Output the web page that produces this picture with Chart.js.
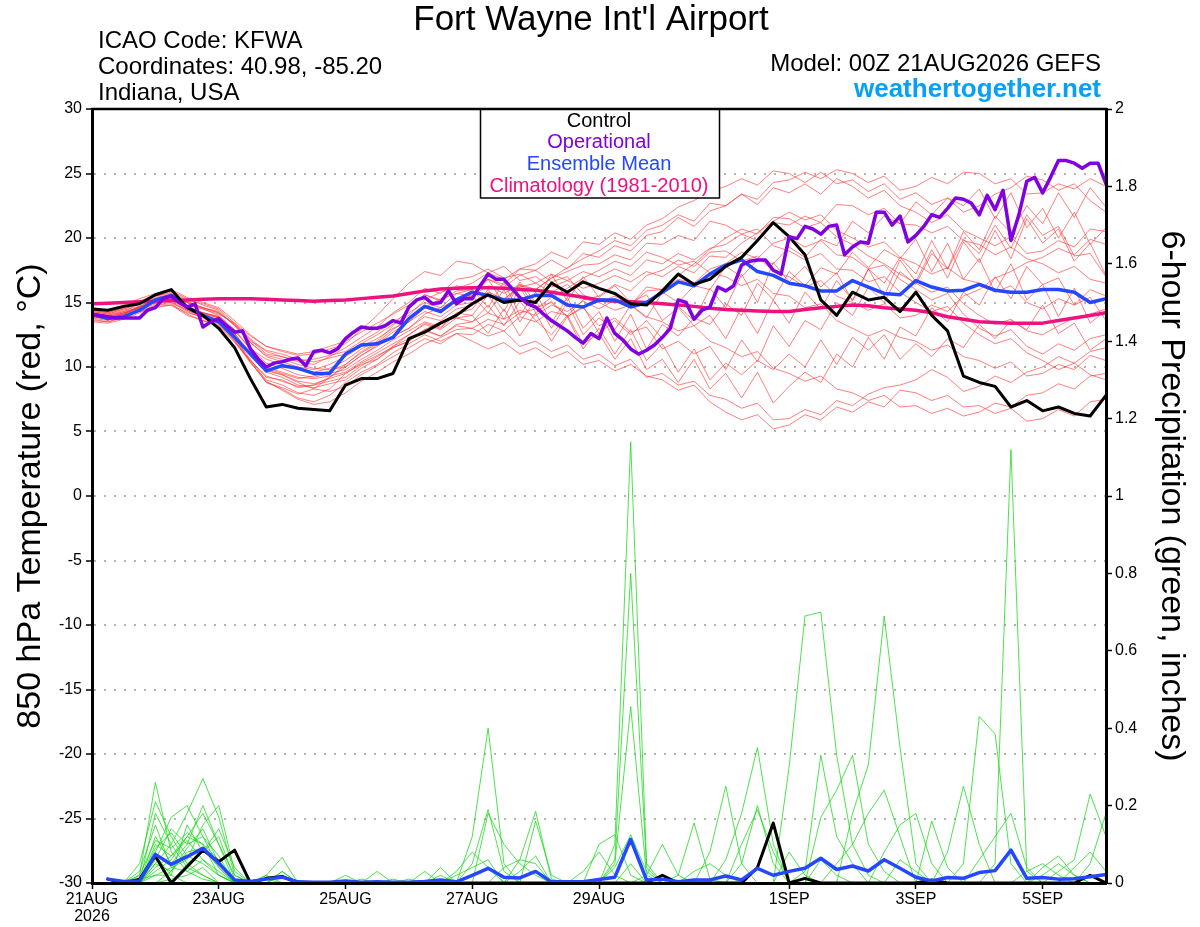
<!DOCTYPE html>
<html><head><meta charset="utf-8">
<script src="https://cdn.jsdelivr.net/npm/chart.js@4.4.1/dist/chart.umd.min.js"></script>
<style>html,body{margin:0;padding:0;background:#fff;}canvas{display:block;}</style>
</head><body>
<canvas id="c" width="1200" height="927"></canvas>
<script>
// ---------- axis categories ----------
const forecastHours6 = Array.from({length:65},(_,i)=>i*6);
const forecastHours3 = Array.from({length:129},(_,i)=>i*3);
const xTickHours = [0,48,96,144,192,264,312,360];
const xTickLabels = [['21AUG','2026'],'23AUG','25AUG','27AUG','29AUG','1SEP','3SEP','5SEP'];

// ---------- 850 hPa temperature (deg C) ----------
const controlTemp = [14.5,14.4,14.7,14.9,15.6,16.0,14.6,14.0,13.0,11.5,9.1,6.9,7.1,6.8,6.7,6.6,8.6,9.1,9.1,9.5,12.2,12.7,13.4,14.0,14.9,15.6,15.0,15.2,15.0,16.5,15.8,16.6,16.1,15.7,14.9,14.8,15.9,17.2,16.4,16.8,17.8,18.5,19.8,21.2,20.1,18.7,15.2,14.0,15.8,15.2,15.4,14.3,15.8,14.0,12.8,9.3,8.8,8.5,6.9,7.4,6.6,6.9,6.4,6.2,7.8];
const meanTemp = [14.1,13.75,13.9,14.4,15.2,15.55,14.65,14.0,13.5,12.3,11.0,9.7,10.1,9.9,9.5,9.5,11.0,11.7,11.8,12.3,13.75,14.7,14.3,15.2,15.8,15.55,15.2,15.2,15.55,15.55,14.8,14.65,15.2,15.2,14.65,15.0,15.8,16.6,16.3,17.2,17.9,18.3,17.4,17.1,16.5,16.3,15.9,15.9,16.7,16.2,15.7,15.6,16.7,16.2,15.9,15.95,16.4,15.95,15.8,15.8,16.0,16.0,15.8,15.0,15.3];
const climoTemp = [14.9,14.95,15.0,15.05,15.1,15.15,15.2,15.25,15.3,15.3,15.3,15.25,15.2,15.15,15.1,15.15,15.2,15.3,15.4,15.5,15.7,15.9,16.05,16.1,16.15,16.15,16.1,16.0,15.95,15.8,15.6,15.4,15.2,15.1,15.05,15.0,14.9,14.8,14.7,14.55,14.45,14.4,14.35,14.3,14.3,14.45,14.6,14.7,14.8,14.75,14.6,14.5,14.4,14.2,13.9,13.7,13.5,13.45,13.4,13.4,13.4,13.6,13.8,14.0,14.2];
const operationalTemp = [14.1,14.0,13.9,13.8,13.8,13.8,13.8,14.4,14.6,15.3,15.5,15.0,14.65,14.9,13.1,13.5,13.75,13.2,12.7,12.8,11.4,10.6,10.0,10.3,10.4,10.6,10.7,10.1,11.2,11.3,11.1,11.4,12.2,12.7,13.1,13.0,13.0,13.2,13.6,13.4,14.65,15.2,15.4,14.9,15.0,15.9,
14.9,15.3,15.3,16.3,17.2,16.8,16.8,16.1,15.4,14.9,14.65,14.1,13.6,13.2,12.8,12.3,11.85,12.6,12.2,13.8,12.6,12.1,11.4,11.0,11.3,11.7,12.3,13.0,15.2,15.0,13.7,14.4,14.65,16.2,15.9,16.3,17.9,18.2,18.3,18.3,17.5,17.2,
20.1,19.95,20.9,20.7,20.3,20.9,21.0,18.7,19.3,19.7,19.6,22.0,22.0,21.0,21.7,19.7,20.2,20.9,21.8,21.6,22.3,23.1,23.0,22.7,21.8,23.3,22.2,23.7,19.8,21.8,24.4,24.7,23.5,24.7,26.0,26.0,25.8,25.4,25.8,25.8,24.2];

const memberTemp01 = [14.2,14.0,14.3,14.6,15.0, 15.4,14.8,14.5,14.0, 12.9,11.4,10.6,10.2, 9.8,9.6,9.9,10.5, 11.4,12.0,13.2,14.5, 15.6,15.1,15.9,16.0, 16.8,16.2,17.1,17.5, 18.3,17.6,18.8,18.5, 19.4,19.0,20.2,20.5, 21.6,20.9,22.1,22.5, 23.4,22.6,23.9,23.5, 24.2,23.4,24.6,24.0, 23.1,23.7,22.5,22.0, 21.2,21.8,20.6,20.0, 19.4,20.1,18.8,19.0, 19.8,19.3,20.7,20.5];
const memberTemp02 = [13.8,13.6,14.1,14.7,15.3, 15.0,14.4,13.9,13.5, 12.0,10.3,9.0,8.6, 8.0,7.8,8.3,9.5, 10.2,10.6,11.5,12.0, 12.8,12.4,13.3,13.5, 14.8,13.2,15.1,13.6, 12.5,14.0,11.8,12.6, 10.6,12.2,9.8,10.6, 8.8,10.6,8.3,9.5, 7.6,9.6,7.2,8.5, 9.6,8.8,11.0,10.0, 12.3,10.6,13.1,12.4, 14.6,13.5,15.8,14.8, 17.0,15.3,17.8,16.4, 16.9,14.8,15.4,13.6];
const memberTemp03 = [14.5,14.3,14.7,15.1,15.5, 15.8,15.2,14.9,14.5, 13.4,12.1,11.0,10.8, 10.4,10.2,10.8,11.5, 12.3,13.1,14.2,15.0, 16.1,15.7,16.8,17.0, 17.6,16.9,17.2,16.5, 15.8,16.4,15.3,15.0, 15.5,14.8,15.9,16.0, 16.8,16.5,17.6,18.0, 18.9,18.4,19.6,20.0, 19.3,19.8,18.7,18.5, 17.6,17.9,16.8,16.0, 15.2,15.7,14.1,13.0, 12.4,12.9,11.6,11.0, 11.8,11.3,12.2,12.5];
const memberTemp04 = [14.0,13.8,14.2,14.6,15.0, 15.2,14.7,14.2,13.8, 12.6,11.0,9.8,9.4, 8.8,8.3,8.1,8.5, 9.4,10.1,10.8,11.5, 12.2,11.8,12.6,12.5, 13.3,12.8,13.9,13.5, 14.3,14.0,15.2,15.5, 16.4,15.9,17.1,17.5, 18.3,17.8,18.9,19.0, 18.2,18.6,17.4,17.0, 16.2,16.7,15.5,15.0, 14.4,14.9,13.8,14.0, 14.8,14.3,15.5,16.0, 16.9,17.4,18.1,18.5, 19.2,18.7,19.9,19.5];
const memberTemp05 = [13.6,13.5,13.9,14.3,14.8, 14.9,14.1,13.6,13.2, 11.9,10.5,9.2,9.0, 8.4,8.6,9.2,10.0, 10.9,11.6,12.4,13.0, 14.1,14.6,15.2,15.5, 16.8,14.9,16.4,14.6, 15.0,13.9,14.6,13.2, 13.8,12.7,13.1,11.4, 12.0,11.0,11.6,9.8, 12.1,10.4,13.2,11.6, 13.6,12.9,15.0,14.0, 16.2,15.0,17.4,16.4, 18.8,17.6,19.9,18.8, 21.0,19.2,21.8,20.2, 20.9,18.6,18.8,17.0];
const memberTemp06 = [14.3,14.1,14.5,14.9,15.2, 15.6,15.0,14.6,14.2, 13.3,12.0,11.3,11.0, 10.6,10.4,10.7,11.0, 11.8,12.5,13.3,14.0, 15.2,15.8,16.1,16.5, 17.3,16.8,17.6,18.0, 18.9,18.4,19.7,19.5, 20.4,19.9,21.0,21.5, 22.4,22.9,23.6,24.0, 24.6,24.1,25.2,25.0, 24.3,25.1,24.2,24.5, 23.6,24.2,23.0,23.5, 22.6,23.1,22.0,22.5, 23.4,23.9,24.8,24.5, 23.7,24.2,22.9,22.0];
const memberTemp07 = [14.0,13.7,13.9,14.3,14.6, 14.8,14.2,13.9,13.6, 12.2,10.6,8.9,8.2, 7.5,7.1,7.3,8.0, 8.9,9.6,10.4,11.0, 11.8,12.3,12.9,13.0, 12.4,12.8,11.6,12.0, 11.2,11.7,10.6,11.0, 10.1,10.6,9.2,9.5, 8.6,8.9,7.8,7.5, 6.8,7.2,5.9,6.0, 6.7,6.3,7.4,7.0, 7.9,8.4,8.6,9.0, 9.8,9.2,8.1,8.5, 9.3,8.8,9.6,10.0, 10.8,10.3,11.2,11.5];
const memberTemp08 = [14.4,14.2,14.6,15.1,15.6, 15.9,15.3,14.8,14.4, 13.2,11.9,10.8,10.4, 10.0,9.8,10.2,10.8, 11.6,12.2,13.0,13.5, 14.3,13.9,14.8,15.0, 15.8,15.3,16.2,16.5, 17.2,16.7,17.4,17.0, 17.6,17.1,18.3,18.0, 18.8,18.3,19.2,19.5, 20.3,19.8,21.2,21.0, 21.7,21.2,22.6,22.5, 21.8,22.3,21.1,21.0, 20.4,20.9,19.8,19.5, 18.7,19.3,18.4,18.0, 17.3,17.8,16.8,16.5];
const memberTemp09 = [13.9,13.7,14.1,14.6,15.1, 15.3,14.6,14.2,13.9, 12.5,10.9,9.6,9.2, 8.6,8.4,8.7,9.0, 9.9,10.6,11.6,12.5, 13.4,13.0,14.1,14.5, 16.0,14.3,16.6,15.0, 17.2,15.1,17.0,15.4, 16.3,15.0,15.6,13.6, 14.6,13.2,14.0,12.2, 14.6,12.6,15.2,13.4, 15.8,14.5,16.7,15.2, 17.6,16.5,18.5,17.2, 19.8,17.6,20.5,19.1, 21.7,20.4,22.5,21.1, 23.5,21.6,23.9,22.4];
const memberTemp10 = [14.1,13.9,14.3,14.9,15.4, 15.6,15.0,14.5,14.1, 13.4,12.4,11.6,11.3, 11.0,11.2,11.6,12.0, 12.7,13.4,14.1,14.8, 15.6,15.2,16.3,16.0, 14.6,16.6,14.0,15.8, 13.4,15.4,13.0,14.3, 12.0,14.1,11.4,13.3, 12.4,13.8,13.3,14.9, 14.0,16.5,15.2,17.4, 16.3,17.7,17.2,18.9, 17.7,19.1,18.4,19.9, 17.4,19.6,16.8,18.4, 15.8,18.0,15.2,16.4, 13.9,16.1,13.4,14.4];
const memberTemp11 = [14.2,14.0,14.4,14.7,15.0, 15.3,14.6,14.0,13.7, 12.4,11.0,9.9,9.5, 9.1,9.3,9.7,10.2, 11.2,11.9,12.9,13.8, 14.6,14.2,15.3,15.5, 16.3,15.7,16.4,16.0, 16.9,17.4,17.9,18.0, 18.7,18.3,19.6,19.5, 20.2,19.8,21.3,21.0, 20.3,20.7,19.4,19.0, 18.3,18.8,17.6,17.5, 16.6,17.0,15.8,15.0, 14.3,14.7,13.4,12.5, 11.8,12.2,11.1,10.5, 9.8,10.3,9.4,9.0];
const memberTemp12 = [13.7,13.5,13.8,14.4,14.9, 15.0,14.3,13.8,13.4, 12.1,10.4,8.8,8.3, 7.6,7.3,7.8,8.8, 9.6,10.2,11.1,11.8, 12.5,12.0,12.6,12.0, 11.4,11.9,11.0,11.5, 10.7,11.2,10.2,10.5, 9.7,10.2,9.3,9.0, 8.2,8.6,7.3,6.5, 5.9,6.3,5.2,5.5, 6.3,5.9,6.9,6.5, 7.3,6.9,8.2,8.0, 7.4,7.8,6.9,7.0, 6.4,6.8,5.8,6.0, 6.7,6.2,7.3,7.5];
const memberTemp13 = [14.6,14.4,14.8,15.3,15.7, 16.0,15.4,15.0,14.6, 13.6,12.5,11.6,11.2, 10.9,11.0,11.4,11.8, 12.9,14.0,15.3,16.5, 17.4,17.1,18.2,18.0, 17.3,17.8,16.7,17.0, 16.2,16.7,16.1,16.5, 17.1,16.6,17.4,17.0, 17.8,17.3,18.6,18.5, 19.6,20.4,21.3,22.0, 21.4,21.8,20.6,20.0, 19.3,19.7,18.5,18.0, 17.2,17.7,16.8,16.5, 15.8,16.3,15.0,14.5, 15.3,14.8,16.0,15.5];
const memberTemp14 = [14.0,13.8,14.1,14.6,15.1, 15.2,14.6,14.2,13.9, 12.8,11.4,10.3,9.9, 9.4,9.2,9.5,9.8, 10.6,11.3,12.1,12.8, 13.5,13.1,14.2,14.0, 12.6,14.5,12.4,14.2, 12.0,13.9,11.4,13.0, 11.0,12.9,10.5,11.8, 9.6,11.4,9.0,10.3, 9.4,10.5,9.8,11.0, 10.0,12.1,10.2,12.3, 11.3,12.5,10.6,11.8, 10.8,12.2,11.5,13.3, 12.2,13.6,12.9,14.8, 12.6,13.4,11.3,12.2];
const memberTemp15 = [13.5,13.4,13.7,14.2,14.7, 14.8,14.0,13.6,13.3, 12.0,10.5,9.3,8.9, 8.5,8.6,8.9,9.2, 10.1,10.8,11.6,12.2, 12.9,12.4,13.2,13.0, 13.7,13.3,14.2,14.5, 15.4,16.1,16.9,17.5, 18.2,17.8,18.9,18.5, 17.9,18.2,17.3,17.0, 16.3,16.8,15.7,15.5, 14.6,14.9,13.6,13.0, 12.4,12.9,12.3,12.0, 11.3,11.7,10.8,10.5, 9.9,10.4,9.3,9.5, 10.2,9.8,10.9,10.5];
const memberTemp16 = [14.3,14.1,14.5,14.9,15.3, 15.5,15.0,14.6,14.3, 13.2,11.9,10.9,10.6, 10.2,9.9,9.8,10.0, 10.9,11.7,12.4,13.0, 13.9,13.6,14.5,14.8, 15.6,15.2,16.3,16.0, 16.9,17.7,18.4,19.0, 19.8,19.4,20.6,21.0, 21.8,21.3,22.7,22.5, 23.4,23.0,24.3,24.5, 25.1,24.6,25.3,25.0, 24.3,24.8,23.7,24.0, 24.7,24.2,25.1,25.0, 24.2,24.6,23.4,23.5, 24.2,23.8,24.6,24.0];
const memberTemp17 = [14.1,13.9,14.2,14.6,15.0, 15.2,14.5,14.2,13.9, 12.6,11.1,9.7,9.4, 8.9,8.7,9.1,9.5, 10.3,10.9,11.5,12.0, 12.9,13.5,13.8,14.0, 15.6,13.7,16.2,14.2, 15.1,13.9,14.7,12.6, 13.6,12.5,13.6,12.2, 14.7,13.6,16.1,14.6, 17.2,15.0,18.1,16.6, 17.8,16.2,17.3,15.1, 17.6,15.5,18.3,16.6, 19.1,16.9,19.7,18.1, 20.6,18.4,21.5,19.6, 20.7,18.2,19.6,17.1];
const memberTemp18 = [13.9,13.7,14.1,14.7,15.2, 15.4,14.6,14.1,13.8, 12.3,10.4,8.8,8.4, 7.9,8.3,9.2,10.2, 11.1,11.8,12.7,13.5, 14.6,15.3,15.7,16.0, 16.8,16.4,17.6,17.5, 16.6,17.0,15.6,15.0, 14.4,14.8,13.9,13.5, 12.8,13.2,12.0,11.5, 10.8,11.2,9.9,9.5, 8.9,9.3,8.3,8.0, 7.4,7.8,6.9,7.0, 6.4,6.8,6.2,6.5, 7.2,6.9,7.8,8.0, 8.7,8.3,9.3,9.5];
const memberTemp19 = [14.4,14.2,14.6,15.0,15.5, 15.7,15.1,14.6,14.2, 13.3,12.2,11.2,10.8, 10.5,10.6,10.9,11.2, 12.0,12.7,13.5,14.2, 15.0,14.6,15.7,15.5, 14.2,16.0,13.5,15.2, 13.0,15.0,12.5,13.8, 12.9,14.8,13.8,15.8, 15.0,16.3,16.0,17.8, 17.0,18.3,18.0,19.3, 18.5,19.9,19.4,21.3, 20.4,21.7,21.1,22.8, 21.8,23.1,22.5,23.8, 21.5,23.5,20.8,22.3, 20.0,22.0,19.5,20.8];
const memberTemp20 = [14.0,13.8,14.2,14.6,15.0, 15.1,14.4,13.9,13.6, 12.4,11.1,10.0,9.6, 9.2,9.1,9.3,9.6, 10.4,11.1,11.8,12.5, 13.3,12.9,13.8,13.5, 14.2,13.7,14.4,14.0, 14.8,14.3,15.1,14.5, 15.2,14.8,16.2,16.0, 17.1,18.0,19.1,20.0, 20.7,20.3,21.6,21.5, 20.8,21.2,20.1,19.5, 18.6,18.0,17.2,16.5, 15.8,16.2,14.9,14.0, 13.3,13.7,12.8,12.5, 13.2,13.8,14.1,14.5];
const memberTemps = [memberTemp01,memberTemp02,memberTemp03,memberTemp04,memberTemp05,memberTemp06,memberTemp07,memberTemp08,memberTemp09,memberTemp10,memberTemp11,memberTemp12,memberTemp13,memberTemp14,memberTemp15,memberTemp16,memberTemp17,memberTemp18,memberTemp19,memberTemp20];

// ---------- 6-hour precipitation (inches) ----------
const controlPrecip = [null,0.01,0,0.01,0.07,0,0.042,0.085, 0.055,0.085,0,0.012,0.017,0,0,0, 0,0,0,0,0,0,0,0, 0,0,0,0,0,0,0,0, 0,0,0,0,0.02,0,0,0, 0,0,0.04,0.155,0,0.012,0,0, 0,0,0,0,0,0.008,0,0, 0,0,0,0,0,0,0,0.02, 0];
const meanPrecip = [null,0.01,0.004,0.005,0.074,0.048,0.068,0.09, 0.051,0.008,0.004,0.01,0.015,0.003,0.002,0.002, 0.005,0.002,0.003,0.002,0.002,0.004,0.008,0.003, 0.02,0.038,0.015,0.013,0.03,0.003,0.003,0.003, 0.009,0.015,0.113,0.008,0.01,0.003,0.008,0.008, 0.018,0.008,0.038,0.02,0.03,0.038,0.064,0.035, 0.044,0.031,0.06,0.038,0.015,0.005,0.014,0.012, 0.027,0.032,0.085,0.012,0.014,0.01,0.011,0.016, 0.022];
const memberPrecip01 = [null,0,0,0.02,0.26,0.08,0.03,0.01, 0,0,0,0,0,0,0,0, 0,0,0,0.01,0,0,0,0, 0,0,0,0,0,0,0,0, 0.1,0.125,0.02,0,0,0,0,0, 0,0,0,0,0.08,0.02,0,0, 0,0,0,0,0,0,0,0, 0,0,0,0,0,0.03,0.06,0.23, 0.12];
const memberPrecip02 = [null,0,0,0.05,0.21,0.12,0.05,0.02, 0,0,0,0,0,0,0,0, 0.02,0,0,0,0,0,0,0.03, 0.08,0.04,0,0,0,0,0,0, 0,0,0,0,0,0,0,0.08, 0.25,0.05,0,0,0,0,0,0, 0,0,0,0,0,0,0,0, 0,0,0,0,0,0,0,0, 0];
const memberPrecip03 = [null,0,0,0.01,0.08,0.17,0.2,0.12, 0.04,0,0,0.02,0.066,0,0,0, 0,0,0,0,0,0,0,0, 0,0,0,0,0,0,0,0, 0,0,0.05,0,0,0,0,0, 0,0,0,0,0.3,0.69,0.7,0.33, 0.1,0.02,0,0,0,0,0,0, 0,0,0,0,0,0,0,0, 0];
const memberPrecip04 = [null,0,0,0,0.05,0.1,0.18,0.27, 0.17,0.02,0,0,0,0,0,0, 0,0,0,0,0,0,0,0, 0.12,0.4,0.05,0,0,0,0,0, 0,0,0,0,0,0,0,0, 0,0,0,0,0,0,0,0, 0,0,0,0.06,0.03,0,0,0, 0,0,0,0,0,0,0,0, 0];
const memberPrecip05 = [null,0,0,0,0.12,0.05,0.1,0.2, 0.1,0,0,0.01,0,0,0,0, 0,0,0,0,0,0,0,0, 0,0,0,0,0,0,0,0, 0,0.1,1.14,0.05,0,0,0,0, 0,0,0,0,0,0,0,0, 0,0,0,0,0,0,0,0, 0.06,0.12,0.18,0.04,0,0,0,0, 0];
const memberPrecip06 = [null,0,0,0.03,0.15,0.04,0.06,0.15, 0.2,0.03,0,0,0,0,0,0, 0,0,0,0,0.01,0,0,0, 0,0,0,0,0,0,0,0, 0,0,0,0,0,0,0,0, 0.06,0.18,0.35,0.1,0,0,0,0, 0,0,0,0,0,0,0,0, 0,0,0,0,0,0,0,0.05, 0.18];
const memberPrecip07 = [null,0,0,0,0.09,0.13,0.07,0.05, 0.02,0,0,0,0,0,0,0, 0,0,0,0,0,0,0,0, 0.05,0.19,0.03,0,0,0,0,0, 0,0,0,0,0,0,0,0, 0,0,0,0,0,0.03,0.33,0.12, 0.05,0,0,0,0,0,0,0, 0,0,0,0,0,0,0,0, 0];
const memberPrecip08 = [null,0.01,0,0,0.03,0.06,0.12,0.1, 0.06,0,0,0,0.03,0,0,0, 0,0,0,0,0,0,0,0, 0,0,0,0,0,0,0,0, 0,0.04,0.125,0.03,0,0,0,0, 0,0,0,0,0,0,0,0, 0,0,0,0,0,0.16,0.04,0, 0,0,0,0,0,0,0,0, 0];
const memberPrecip09 = [null,0,0,0,0.07,0.02,0.15,0.08, 0.12,0.01,0,0,0,0,0,0, 0,0,0,0,0,0.03,0,0, 0,0,0.04,0.06,0.05,0,0,0, 0,0,0,0,0,0.02,0.155,0.01, 0,0,0,0,0,0,0,0, 0,0,0,0,0,0,0,0, 0,0,0,0,0,0,0.04,0.08, 0.03];
const memberPrecip10 = [null,0,0,0,0.18,0.1,0.04,0.02, 0,0,0,0,0,0,0,0, 0,0,0.03,0,0,0,0,0, 0,0,0,0,0,0,0,0, 0,0,0,0,0,0,0,0, 0,0.05,0.2,0.05,0,0,0,0, 0,0,0,0,0,0,0.08,0.25, 0.1,0,0,0,0,0,0,0, 0];
const memberPrecip11 = [null,0,0,0,0,0.03,0.09,0.14, 0.05,0,0,0,0,0,0,0, 0,0,0,0,0,0,0.02,0, 0,0,0,0,0,0,0,0, 0,0.06,0.8,0.04,0,0,0,0, 0,0,0,0,0,0,0.06,0.02, 0,0,0,0,0,0,0,0, 0,0,0,0,0,0,0,0, 0];
const memberPrecip12 = [null,0,0,0,0.04,0.07,0.11,0.06, 0.03,0,0,0,0,0,0,0, 0,0,0,0,0,0,0,0, 0,0.18,0.1,0.05,0.02,0,0,0, 0,0,0,0,0,0,0,0, 0,0,0,0,0,0,0.17,0.24, 0.33,0.1,0.03,0,0,0,0,0, 0,0,0,0,0,0,0,0, 0];
const memberPrecip13 = [null,0,0,0.02,0.11,0.09,0.13,0.1, 0.02,0,0,0.02,0,0,0,0, 0,0,0,0,0,0,0,0, 0,0,0,0,0,0,0,0.03, 0.08,0.02,0,0,0,0,0,0, 0,0,0,0,0,0,0,0, 0,0,0,0,0,0,0,0.05, 0.43,0.385,0.05,0,0,0,0,0, 0];
const memberPrecip14 = [null,0,0,0,0,0,0.05,0.08, 0.14,0.04,0,0,0,0,0,0, 0,0.01,0,0,0,0,0,0.02, 0.04,0.06,0,0,0,0,0,0, 0,0,0,0.02,0.1,0.02,0,0, 0,0,0,0,0,0,0,0, 0,0,0,0,0,0,0,0, 0,0,0,0,0.02,0.05,0.02,0, 0];
const memberPrecip15 = [null,0,0,0,0.02,0.04,0.03,0.06, 0.02,0,0,0,0.02,0,0,0, 0,0,0,0,0,0,0,0, 0,0,0,0,0,0,0,0, 0,0,0,0,0,0,0.03,0.05, 0.02,0,0,0,0,0,0,0, 0,0,0,0,0,0,0,0, 0,0,0,0.03,0.05,0.02,0,0, 0];
const memberPrecip16 = [null,0,0,0,0.06,0.14,0.1,0.12, 0.07,0,0,0,0,0,0,0, 0,0,0,0,0,0,0,0, 0,0,0,0.06,0.185,0.01,0,0, 0,0,0,0,0,0,0,0, 0,0,0,0,0,0,0,0, 0.18,0.305,0.69,0.35,0.05,0,0,0, 0,0,0,0,0,0,0,0, 0];
const memberPrecip17 = [null,0,0,0,0,0.01,0.02,0.04, 0,0,0,0,0,0,0,0, 0,0,0,0,0,0,0.04,0, 0,0,0,0,0,0,0,0, 0,0.05,0.456,0.02,0,0,0,0, 0,0,0,0,0,0,0,0, 0,0,0,0,0,0,0,0, 0,0.05,1.12,0.03,0,0,0,0, 0];
const memberPrecip18 = [null,0,0,0,0.1,0.07,0.12,0.18, 0.1,0.02,0,0,0,0,0,0, 0,0,0,0,0,0,0,0, 0,0,0,0,0,0,0,0, 0,0,0,0,0,0,0,0, 0,0.1,0.19,0.08,0,0,0,0, 0,0,0,0,0,0,0,0, 0,0,0,0,0.04,0.07,0.02,0, 0];
const memberPrecip19 = [null,0,0,0,0.05,0.03,0.08,0.09, 0.04,0,0,0,0.03,0,0,0, 0,0,0,0,0,0,0,0, 0,0,0,0,0.16,0.02,0,0, 0,0,0,0,0,0,0,0, 0,0,0,0,0,0,0,0.05, 0.1,0.18,0.24,0.12,0,0,0,0, 0,0,0,0,0,0,0,0, 0];
const memberPrecip20 = [null,0,0,0.01,0.02,0.02,0,0, 0,0,0,0,0,0,0,0, 0,0,0,0,0,0,0,0, 0,0,0,0.03,0.07,0,0,0, 0,0,0,0,0,0,0,0, 0,0,0,0,0,0,0,0, 0,0,0.08,0.15,0.18,0.05,0,0, 0,0,0,0,0,0,0,0, 0];
const memberPrecips = [memberPrecip01,memberPrecip02,memberPrecip03,memberPrecip04,memberPrecip05,memberPrecip06,memberPrecip07,memberPrecip08,memberPrecip09,memberPrecip10,memberPrecip11,memberPrecip12,memberPrecip13,memberPrecip14,memberPrecip15,memberPrecip16,memberPrecip17,memberPrecip18,memberPrecip19,memberPrecip20];

// ---------- styling ----------
const COL_OP = '#8000e0', COL_MEAN = '#2447ff', COL_CLIM = '#ee1280', COL_CTRL = '#000000';
const COL_RED = 'rgba(255,50,50,0.62)', COL_GREEN = 'rgba(20,215,20,0.75)';
const FONT = "'Liberation Sans', Arial, Helvetica, sans-serif";

const pts6 = arr => arr.map((v,i)=>({x:forecastHours6[i], y:v}));
const pts3 = arr => arr.map((v,i)=>({x:forecastHours3[i], y:v}));

const datasets = [];
memberTemps.forEach((m,i)=>datasets.push({label:'memberT'+(i+1), data:pts6(m), yAxisID:'yT', borderColor:COL_RED, borderWidth:1, pointRadius:0, order:9}));
memberPrecips.forEach((m,i)=>datasets.push({label:'memberP'+(i+1), data:pts6(m), yAxisID:'yP', borderColor:COL_GREEN, borderWidth:1, pointRadius:0, order:8}));
datasets.push({label:'Control precip', data:pts6(controlPrecip), yAxisID:'yP', borderColor:COL_CTRL, borderWidth:3, pointRadius:0, order:6});
datasets.push({label:'Mean precip', data:pts6(meanPrecip), yAxisID:'yP', borderColor:COL_MEAN, borderWidth:3.5, pointRadius:0, order:5});
datasets.push({label:'Climatology', data:pts6(climoTemp), yAxisID:'yT', borderColor:COL_CLIM, borderWidth:3.5, pointRadius:0, order:4});
datasets.push({label:'Ensemble Mean', data:pts6(meanTemp), yAxisID:'yT', borderColor:COL_MEAN, borderWidth:3.5, pointRadius:0, order:3});
datasets.push({label:'Control', data:pts6(controlTemp), yAxisID:'yT', borderColor:COL_CTRL, borderWidth:3, pointRadius:0, order:2});
datasets.push({label:'Operational', data:pts3(operationalTemp), yAxisID:'yT', borderColor:COL_OP, borderWidth:3.5, pointRadius:0, order:1});

const overlay = {
  id:'overlay',
  afterDatasetsDraw(chart){
    const {ctx, chartArea:a} = chart;
    ctx.save();
    const cx = (a.left + a.right)/2;
    const bw = 239, bh = 89, bx = Math.round(cx - bw/2) + 0.5, by = a.top;
    ctx.fillStyle = '#fff';
    ctx.fillRect(bx, by, bw, bh);
    ctx.strokeStyle = '#000'; ctx.lineWidth = 1.5;
    ctx.strokeRect(bx, by, bw, bh);
    ctx.font = '20px ' + FONT; ctx.textAlign = 'center'; ctx.textBaseline = 'alphabetic';
    [['Control',COL_CTRL,18],['Operational',COL_OP,39],['Ensemble Mean',COL_MEAN,61],['Climatology (1981-2010)',COL_CLIM,83]].forEach(([t,c,dy])=>{
      ctx.fillStyle = c; ctx.fillText(t, cx, by + dy);
    });
    ctx.strokeStyle = '#000'; ctx.lineWidth = 2.5;
    ctx.beginPath(); ctx.moveTo(a.left - 1, a.top); ctx.lineTo(a.right + 1, a.top); ctx.stroke();
    ctx.restore();
  },
  afterDraw(chart){
    const ctx = chart.ctx;
    ctx.save();
    ctx.textBaseline = 'alphabetic';
    ctx.fillStyle = '#000';
    ctx.font = '35px ' + FONT; ctx.textAlign = 'center';
    ctx.fillText("Fort Wayne Int'l Airport", 591, 30);
    ctx.font = '24px ' + FONT; ctx.textAlign = 'left';
    ctx.fillText('ICAO Code: KFWA', 98, 48);
    ctx.fillText('Coordinates: 40.98, -85.20', 98, 74);
    ctx.fillText('Indiana, USA', 98, 100);
    ctx.textAlign = 'right';
    ctx.fillText('Model: 00Z 21AUG2026 GEFS', 1101, 71);
    ctx.font = 'bold 26px ' + FONT; ctx.fillStyle = '#07a0f5';
    ctx.fillText('weathertogether.net', 1101, 97);
    ctx.restore();
  }
};

Chart.defaults.font.family = FONT;
Chart.defaults.color = '#000';

new Chart(document.getElementById('c'), {
  type:'line',
  data:{datasets},
  options:{
    responsive:false, animation:false, devicePixelRatio:1,
    layout:{padding:{top:109,left:0,right:0,bottom:0}},
    elements:{line:{tension:0, borderJoinStyle:'round', borderCapStyle:'round'}, point:{radius:0}},
    plugins:{legend:{display:false}, tooltip:{enabled:false}, title:{display:false}},
    scales:{
      x:{
        type:'linear', min:0, max:384,
        afterBuildTicks: s => { s.ticks = xTickHours.map(v=>({value:v})); },
        ticks:{autoSkip:false, maxRotation:0, minRotation:0, padding:2, font:{size:16, lineHeight:1.05}, color:'#000',
          callback:(v)=>{ const k = xTickHours.indexOf(v); return k>=0 ? xTickLabels[k] : ''; }},
        grid:{display:true, drawOnChartArea:false, drawTicks:true, tickLength:6, tickColor:'#000', tickWidth:1.5},
        border:{display:true, color:'#000', width:3, z:1},
        afterFit: s => { s.height = 44; }
      },
      yT:{
        type:'linear', position:'left', min:-30, max:30,
        ticks:{stepSize:5, font:{size:16}, color:'#000', padding:4},
        grid:{color:'#b4b4b4', lineWidth:2, drawTicks:true, tickLength:6, tickColor:'#000', tickWidth:1.5, tickBorderDash:[]},
        border:{display:true, color:'#000', width:3, dash:[2,8], z:1},
        title:{display:true, text:'850 hPa Temperature (red, °C)', font:{size:34}, color:'#000', padding:{top:10,bottom:0}},
        afterFit: s => { s.width = 92; }
      },
      yP:{
        type:'linear', position:'right', min:0, max:2,
        ticks:{stepSize:0.2, font:{size:16}, color:'#000', padding:3, callback:(v)=>String(Math.round(v*10)/10)},
        grid:{drawOnChartArea:false, drawTicks:true, tickLength:6, tickColor:'#000', tickWidth:1.5},
        border:{display:true, color:'#000', width:3, z:1},
        title:{display:true, text:'6-hour Precipitation (green, inches)', font:{size:34}, color:'#000', padding:{top:8,bottom:0}},
        afterFit: s => { s.width = 94; }
      }
    }
  },
  plugins:[overlay]
});
</script>
</body></html>
